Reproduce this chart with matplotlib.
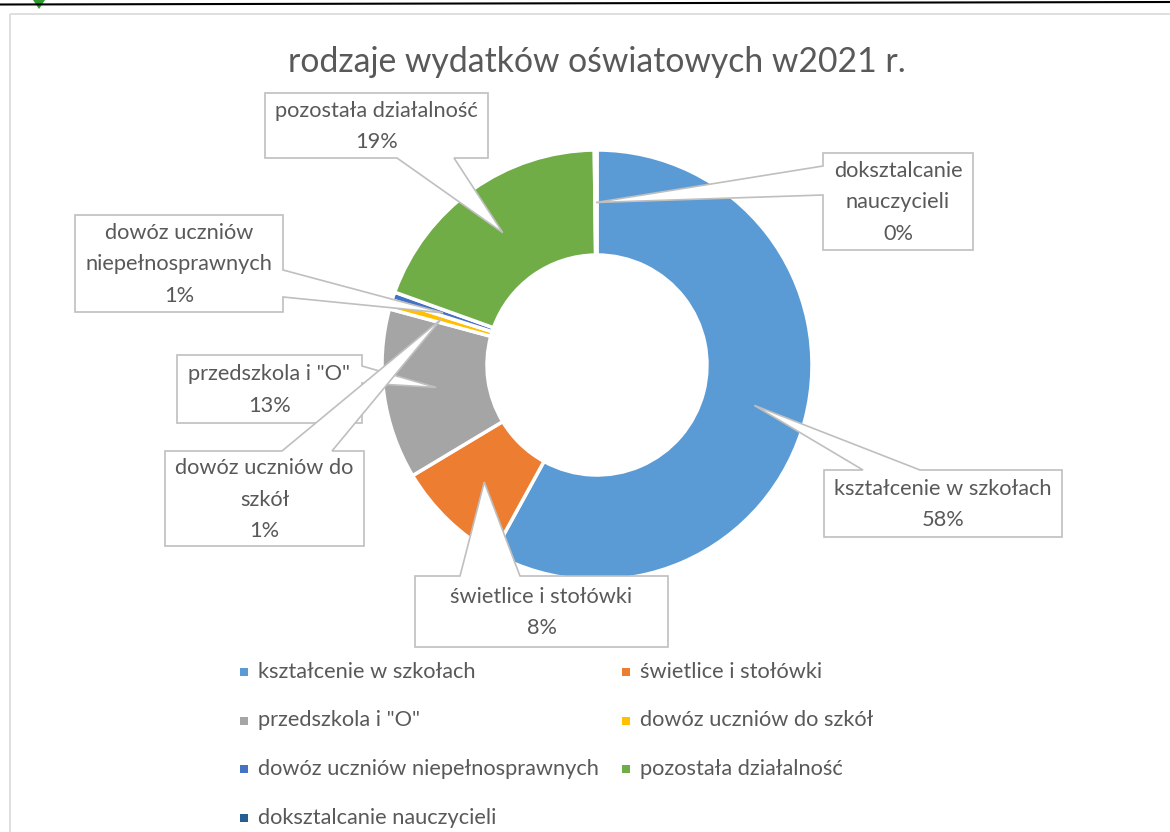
import numpy as np
import matplotlib.pyplot as plt
from matplotlib.patches import Polygon, Rectangle

# ==========================================
# DATA
# ==========================================

categories = [
    "kształcenie w szkołach",
    "świetlice i stołówki",
    "przedszkola i \"O\"",
    "dowóz uczniów do szkół",
    "dowóz uczniów niepełnosprawnych",
    "pozostała działalność",
    "doksztalcanie nauczycieli",
]

shares = [58.0, 8.4, 12.8, 0.7, 0.6, 19.3, 0.2]

box_texts = [
    "kształcenie w szkołach\n58%",
    "świetlice i stołówki\n8%",
    "przedszkola i \"O\"\n13%",
    "dowóz uczniów do\nszkół\n1%",
    "dowóz uczniów\nniepełnosprawnych\n1%",
    "pozostała działalność\n19%",
    "doksztalcanie\nnauczycieli\n0%",
]

colors = ["#5B9BD5", "#ED7D31", "#A5A5A5", "#FFC000",
          "#4472C4", "#70AD47", "#255E91"]

title = "rodzaje wydatków oświatowych w2021 r."

# ==========================================
# LAYOUT (pixels, y down)
# ==========================================

W, H = 1170, 832
cx, cy = 597, 365
r_out, r_in = 215, 110

# box (x0, y0, x1, y1), side of pointer, base span on that side
boxes = [
    ((824, 470, 1062, 537), "top", (863, 920)),
    ((415, 576, 668, 647), "top", (460, 520)),
    ((177, 355, 362, 423), "right", (366, 383)),
    ((165, 451, 364, 546), "top", (282, 332)),
    ((75, 215, 283, 312), "right", (270, 297)),
    ((265, 93, 488, 158), "bottom", (397, 454)),
    ((823, 153, 973, 250), "left", (166, 195)),
]

text_color = "#595959"
edge_gray = "#BFBFBF"
font = "Lato"
label_size = 15.7

plt.rcParams["font.family"] = [font, "DejaVu Sans"]

fig = plt.figure(figsize=(W / 100, H / 100), dpi=100)
ax = fig.add_axes([0, 0, 1, 1])

# ==========================================
# DONUT
# ==========================================

ax.pie(
    shares,
    colors=colors,
    center=(cx, cy),
    radius=r_out,
    startangle=-90,
    counterclock=True,
    wedgeprops=dict(width=r_out - r_in, edgecolor="white", linewidth=2.5),
)

ax.set_xlim(0, W)
ax.set_ylim(H, 0)
ax.set_aspect("equal")
ax.axis("off")

# ==========================================
# CALLOUTS
# ==========================================

fracs = np.array(shares) / np.sum(shares)
mids = np.cumsum(fracs) - fracs / 2
r_mid = (r_out + r_in) / 2


def callout_poly(box, side, base, tip):
    x0, y0, x1, y1 = box
    if side == "top":
        pts = [(x0, y0), (base[0], y0), tip, (base[1], y0),
               (x1, y0), (x1, y1), (x0, y1)]
    elif side == "right":
        pts = [(x0, y0), (x1, y0), (x1, base[0]), tip, (x1, base[1]),
               (x1, y1), (x0, y1)]
    elif side == "bottom":
        pts = [(x0, y0), (x1, y0), (x1, y1), (base[1], y1), tip,
               (base[0], y1), (x0, y1)]
    else:
        pts = [(x0, y0), (x1, y0), (x1, y1), (x0, y1),
               (x0, base[1]), tip, (x0, base[0])]
    return pts


for i in range(len(categories)):
    box, side, base = boxes[i]
    theta = 2 * np.pi * mids[i]
    tip = (cx + r_mid * np.sin(theta), cy - r_mid * np.cos(theta))
    poly = Polygon(
        callout_poly(box, side, base, tip),
        closed=True,
        facecolor="white",
        edgecolor=edge_gray,
        linewidth=1.2,
        zorder=3,
    )
    ax.add_patch(poly)
    ax.text(
        (box[0] + box[2]) / 2,
        (box[1] + box[3]) / 2 + 1,
        box_texts[i],
        ha="center",
        va="center",
        fontsize=label_size,
        color=text_color,
        linespacing=1.72,
        zorder=4,
    )

# ==========================================
# TITLE + LEGEND
# ==========================================

ax.text(597, 62, title, ha="center", va="center",
        fontsize=24.3, color=text_color)

leg_x = [244, 626]
leg_y0, leg_dy = 672, 48.5

for i, name in enumerate(categories):
    row, col = i // 2, i % 2
    y = leg_y0 + row * leg_dy
    ax.add_patch(Rectangle((leg_x[col] - 4, y - 4), 8, 8,
                           facecolor=colors[i], edgecolor="none"))
    ax.text(leg_x[col] + 14, y, name, ha="left", va="center",
            fontsize=label_size, color=text_color)

# ==========================================
# FRAME + PAGE BITS
# ==========================================

ax.add_patch(Rectangle((10, 14), 1200, 900, facecolor="none",
                       edgecolor="#D9D9D9", linewidth=1.2))
ax.plot([0, W], [4.5, 2], color="black", linewidth=1.5)
ax.add_patch(Polygon([(33, 0), (45, 0), (39, 9)], closed=True,
                     facecolor="#2E9B2E", edgecolor="none"))

plt.savefig("out.png", dpi=100)
